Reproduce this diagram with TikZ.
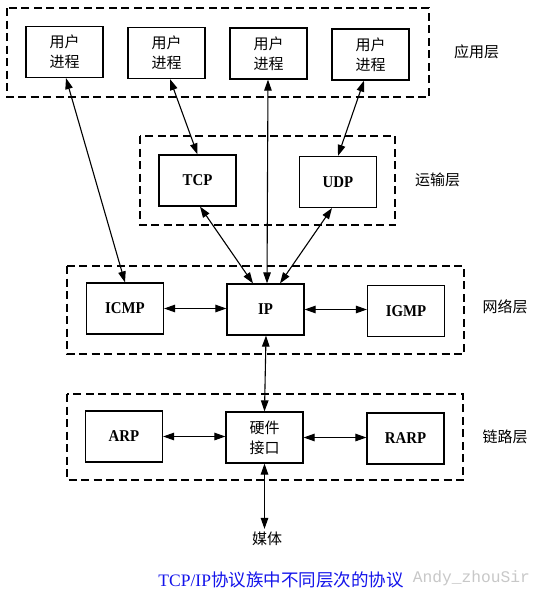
\documentclass[tikz,border=0pt]{standalone}
\usepackage{fontspec}
\setmainfont{Liberation Serif}
\newfontfamily\cjk{Noto Sans CJK SC}
\newfontfamily\labfont{Liberation Serif}[FakeStretch=0.9]
\setmonofont{Liberation Mono}
\usetikzlibrary{arrows.meta}
\definecolor{capblue}{RGB}{20,20,235}
\definecolor{wmgray}{RGB}{200,200,200}
\begin{document}
\begin{tikzpicture}[x=1pt,y=-1pt,
  box/.style={draw, line width=1.2pt, minimum width=77pt, minimum height=51pt,
    inner sep=0pt, align=center, font=\cjk\fontsize{15}{20}\selectfont},
  lbox/.style={box, font=\labfont\bfseries\fontsize{16.5}{18}\selectfont},
  layer/.style={draw, line width=1.1pt, dash pattern=on 8pt off 4.5pt},
  laylab/.style={font=\cjk\fontsize{15}{17}\selectfont, inner sep=0pt},
  link/.style={line width=1.1pt, {Triangle[length=11pt,width=7.5pt]}-{Triangle[length=11pt,width=7.5pt]}},
]
\useasboundingbox (0,0) rectangle (544,597);
\fill[white] (0,0) rectangle (544,597);

% layer frames
\draw[layer] (7,8) rectangle (429,97);
\draw[layer] (140,136) rectangle (395,225);
\draw[layer] (67,266) rectangle (464,354);
\draw[layer] (67,394) rectangle (463,480);

% layer labels
\node[laylab] (lapp) at (476.5,52) {应用层};
\node[laylab] (ltrans) at (437.5,180) {运输层};
\node[laylab] (lnet) at (505,307) {网络层};
\node[laylab] (llink) at (505,437) {链路层};

% application layer
\node[box] (app1) at (64.5,52) {用户\\进程};
\node[box] (app2) at (166.5,53) {用户\\进程};
\node[box] (app3) at (268.5,53.5) {用户\\进程};
\node[box] (app4) at (370.5,54.5) {用户\\进程};

% transport layer
\node[lbox] (tcp) at (197.5,180.5) {TCP};
\node[lbox] (udp) at (338,182) {UDP};

% network layer
\node[lbox] (icmp) at (125,308.5) {ICMP};
\node[lbox] (ip) at (265.5,309.5) {IP};
\node[lbox] (igmp) at (406,311) {IGMP};

% link layer
\node[lbox] (arp) at (124,436.5) {ARP};
\node[box] (hw) at (264.5,437.5) {硬件\\接口};
\node[lbox] (rarp) at (405.5,438.5) {RARP};

\node[font=\cjk\fontsize{15}{17}\selectfont, inner sep=3pt] (media) at (267,539) {媒体};

% connectors
\draw[link] ([xshift=1.5pt]app1.south) -- (icmp.north);
\draw[link] ([xshift=3.5pt]app2.south) -- (tcp.north);
\draw[link] ([xshift=-0.5pt]app3.south) -- ([xshift=1.5pt]ip.north);
\draw[link] ([xshift=-6.5pt]app4.south) -- (udp.north);
\draw[link] ([xshift=2.5pt]tcp.south) -- ([xshift=-12.5pt]ip.north);
\draw[link] ([xshift=-6pt]udp.south) -- ([xshift=14.5pt]ip.north);
\draw[link] (icmp.east) -- (icmp.east -| ip.west);
\draw[link] (ip.east) -- (ip.east -| igmp.west);
\draw[link] ([xshift=0.5pt]ip.south) -- (hw.north);
\draw[link] (arp.east) -- (arp.east -| hw.west);
\draw[link] (hw.east) -- (hw.east -| rarp.west);
\draw[link] (hw.south) -- (hw.south |- media.north);

% watermark and caption
\node[font=\ttfamily\fontsize{16.25}{18}\selectfont, text=wmgray, anchor=east, inner sep=0pt] (wm) at (530,578) {Andy\_zhouSir};
\node[text=capblue, inner sep=0pt] (cap) at (281,580) {\fontsize{17.5}{20}\selectfont TCP/IP\cjk 协议族中不同层次的协议};
\end{tikzpicture}
\end{document}
